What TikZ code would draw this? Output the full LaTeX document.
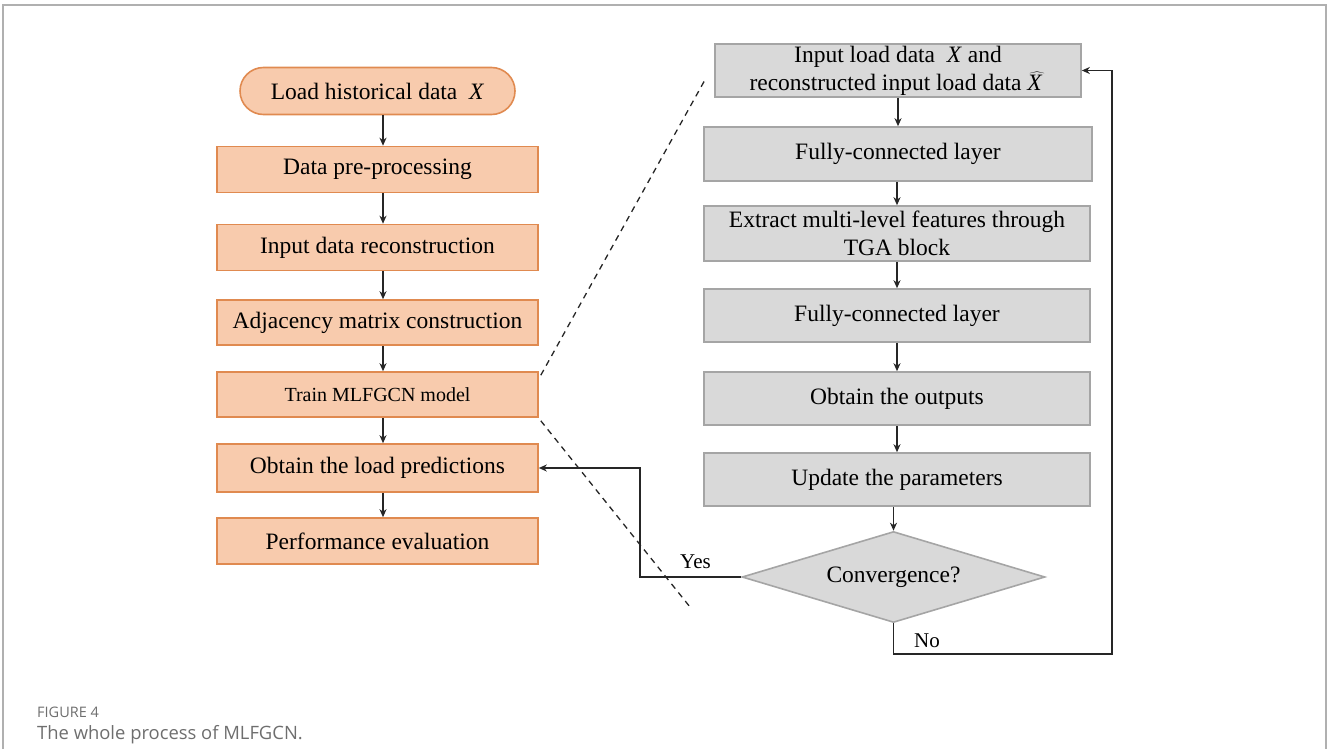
\documentclass[tikz,border=0pt]{standalone}
\usepackage{fontspec}
\setmainfont{Liberation Serif}
\newfontfamily\capfont{Open Sans}
\usetikzlibrary{shapes.misc,shapes.geometric,arrows.meta}
\definecolor{orfill}{HTML}{F8CBAD}
\definecolor{ordraw}{HTML}{E08A50}
\definecolor{grfill}{HTML}{D9D9D9}
\definecolor{grdraw}{HTML}{A5A5A5}
\definecolor{captxt}{HTML}{6E6E6E}
\definecolor{framec}{HTML}{B0B0B0}
\tikzset{
  txt/.style={font=\fontsize{23.5}{28}\selectfont, align=center, inner sep=0pt},
  obox/.style={txt, rectangle, draw=ordraw, fill=orfill, line width=1.6pt, minimum width=321pt},
  gbox/.style={txt, rectangle, draw=grdraw, fill=grfill, line width=1.6pt},
  arr/.style={-{Stealth[length=8pt,width=7pt,inset=2.5pt]}, line width=1.3pt, black!85},
  dline/.style={dashed, dash pattern=on 6pt off 5pt, line width=1.3pt, black!85},
  lbl/.style={font=\fontsize{21}{24}\selectfont, inner sep=0pt}
}
\begin{document}
\begin{tikzpicture}[x=1pt,y=-1pt]
\useasboundingbox (0,0) rectangle (1329,749);
\draw[framec, line width=2pt] (3,749) -- (3,5) -- (1326,5) -- (1326,749);

% left column
\node[txt, rounded rectangle, draw=ordraw, fill=orfill, line width=1.6pt, minimum width=275pt, minimum height=47pt] (load) at (377.5,91) {Load historical data \ \textit{X}};
\node[obox, minimum height=46pt] (pre) at (377.5,169.5) {Data pre-processing};
\node[obox, minimum height=46pt] (rec) at (377.5,247.5) {Input data reconstruction};
\node[obox, minimum height=45pt] (adj) at (377.5,322.5) {Adjacency matrix construction};
\node[obox, minimum height=45pt, font=\fontsize{20}{24}\selectfont] (train) at (377.5,394.5) {Train MLFGCN model};
\node[obox, minimum height=48pt] (obt) at (377.5,468) {Obtain the load predictions};
\node[obox, minimum height=46pt] (perf) at (377.5,541) {Performance evaluation};

\foreach \a/\b in {load/pre,pre/rec,rec/adj,adj/train,train/obt,obt/perf}
  \draw[arr] ([xshift=5.5pt]\a.south) -- ([xshift=5.5pt]\b.north);

% right column
\node[gbox, minimum width=366pt, minimum height=53pt] (inp) at (898,70.5) {Input load data \ \textit{X} and\\ reconstructed input load data $\widehat{\mbox{\textit{X}\,}}$};
\node[gbox, minimum width=388pt, minimum height=54pt] (fc1) at (898,154) {Fully-connected layer};
\node[gbox, minimum width=386pt, minimum height=55pt] (ext) at (897,233.5) {Extract multi-level features through\\TGA block};
\node[gbox, minimum width=386pt, minimum height=53pt] (fc2) at (897,315.5) {Fully-connected layer};
\node[gbox, minimum width=386pt, minimum height=53pt] (outp) at (897,398.5) {Obtain the outputs};
\node[gbox, minimum width=386pt, minimum height=53pt] (upd) at (897,479.5) {Update the parameters};
\node[txt, diamond, draw=grdraw, fill=grfill, line width=1.6pt, aspect=3.3, minimum width=303pt, minimum height=91pt] (conv) at (893.5,577) {Convergence?};

\draw[arr] (inp.south) -- (inp.south |- fc1.north);
\draw[arr] (fc1.south -| ext.north) -- (ext.north);
\draw[arr] (ext.south) -- (fc2.north);
\draw[arr] (fc2.south) -- (outp.north);
\draw[arr] (outp.south) -- (upd.north);
\draw[arr] (upd.south -| conv.north) -- (conv.north);

% feedback loops
\coordinate (fb) at (1112,654);
\draw[arr] (conv.south) |- (fb) |- (inp.east);
\coordinate (yy) at (640,577);
\draw[arr] (conv.west) -- (yy) |- (obt.east);
\node[lbl, anchor=west] (no) at (914,641) {No};
\node[lbl, anchor=west] (yes) at (680,562) {Yes};

% dashed zoom lines
\coordinate (d1) at (706,78);
\coordinate (d2) at (690,607);
\draw[dline] ([shift={(2pt,-4pt)}]train.north east) -- (d1);
\draw[dline] ([shift={(2pt,-3pt)}]train.south east) -- (d2);

% caption
\node[anchor=west, inner sep=0pt, text=captxt, font=\capfont\fontsize{14.5}{16}\selectfont] (fig) at (37,712) {FIGURE 4};
\node[anchor=west, inner sep=0pt, text=captxt, font=\capfont\fontsize{18.4}{20}\selectfont] (cap) at (37,735) {The whole process of MLFGCN.};
\end{tikzpicture}
\end{document}
